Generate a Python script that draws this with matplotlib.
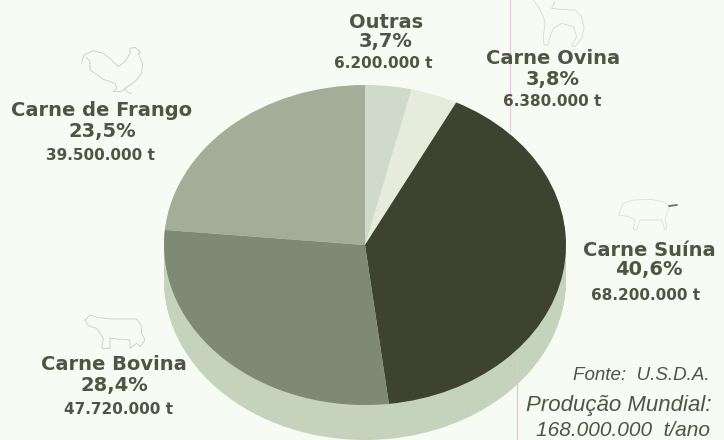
import matplotlib
matplotlib.use("Agg")
import matplotlib.pyplot as plt

W, H = 724, 440
FONT = "DejaVu Sans"
ITALIC_FONT = "Liberation Sans"
INK = "#505445"
PAPER = "#f6fbf4"

# Clockwise from twelve o'clock
categories = ["Outras", "Carne Ovina", "Carne Suína", "Carne Bovina", "Carne de Frango"]
shares = [3.7, 3.8, 40.6, 28.4, 23.5]
tonnes = ["6.200.000 t", "6.380.000 t", "68.200.000 t", "47.720.000 t", "39.500.000 t"]
share_labels = ["3,7%", "3,8%", "40,6%", "28,4%", "23,5%"]
top_colors = ["#cfdacb", "#e5ecdc", "#3e4230", "#7f8a74", "#a4ad98"]
side_colors = ["#c5d2bc"] * 5

fig = plt.figure(figsize=(W / 100, H / 100), dpi=100, facecolor=PAPER)


def pie_axes(cx, cy, rx, ry):
    """Axes whose unit circle lands on an ellipse given in pixel coordinates."""
    ax = fig.add_axes([(cx - rx) / W, 1 - (cy + ry) / H, 2 * rx / W, 2 * ry / H])
    ax.patch.set_alpha(0)
    return ax


def draw_pie(ax, colors):
    ax.pie(shares, colors=colors, startangle=90, counterclock=False, radius=1,
           wedgeprops={"linewidth": 0})
    ax.set_aspect("auto")
    ax.set_xlim(-1, 1)
    ax.set_ylim(-1, 1)


# Side wall of the disc, then a band joining it to the top face
CX, CY, RX, RY = 365, 245, 201, 160
DEPTH = 35
for step in range(DEPTH, 0, -1):
    draw_pie(pie_axes(CX, CY + step, RX, RY), side_colors)
draw_pie(pie_axes(CX, CY, RX, RY), top_colors)

# Overlay in pixel coordinates for labels and outline drawings
ov = fig.add_axes([0, 0, 1, 1], zorder=5)
ov.set_xlim(0, W)
ov.set_ylim(H, 0)
ov.axis("off")
ov.patch.set_alpha(0)

# Registration marks crossing the page
ov.plot([510, 510], [0, 131], color="#ecc8df", lw=0.9)
ov.plot([517, 517], [352, 440], color="#ecc0da", lw=0.9)


def outline(x0, y0, pts, color="#c9cfbe", lw=0.6):
    ov.plot([x0 + p[0] / 3 for p in pts], [y0 + p[1] / 3 for p in pts], color=color, lw=lw)


# Rooster
outline(70, 40, [(35, 68), (42, 45), (70, 32), (100, 40), (125, 60), (145, 80), (165, 65),
                 (180, 40), (180, 25), (195, 22), (212, 38), (205, 42), (218, 70), (215, 100),
                 (195, 125), (165, 145), (170, 155), (185, 162)])
outline(70, 40, [(50, 52), (60, 65), (60, 90), (75, 100), (100, 118), (135, 130), (140, 145),
                 (130, 155), (155, 155), (165, 145)])
# Lamb
outline(520, 0, [(40, 0), (55, 20), (70, 50), (75, 70), (70, 110), (72, 135), (85, 135),
                 (88, 115), (100, 85), (125, 70), (160, 80), (170, 110), (155, 135), (165, 140),
                 (185, 115), (192, 85), (185, 50), (165, 30), (120, 28), (95, 25), (105, 3)],
        color="#d6dbca")
# Pig
outline(600, 190, [(55, 75), (70, 40), (100, 30), (150, 28), (190, 35), (210, 48), (205, 60),
                   (195, 85), (200, 115), (195, 120), (185, 90), (120, 90), (110, 120),
                   (100, 118), (105, 90), (85, 80), (55, 75)], color="#dde2d4")
outline(600, 190, [(208, 48), (230, 45)], color="#6c705f", lw=1.3)
# Cow
outline(75, 305, [(30, 45), (45, 30), (70, 38), (110, 42), (185, 42), (198, 60), (200, 85),
                  (210, 105), (195, 125), (185, 115), (165, 130), (165, 105), (105, 100),
                  (105, 130), (80, 130), (85, 100), (65, 70), (40, 62), (30, 45)])

# name, percent and tonnage rows: x centres and y centres for each slice
name_xy = [(386, 22), (553, 59), (649, 251), (114, 365), (102, 111)]
pct_xy = [(386, 42), (553, 79), (649, 270), (114, 385), (102, 131)]
ton_xy = [(383, 64), (552, 101), (646, 295), (118, 410), (100, 156)]

for i, name in enumerate(categories):
    ov.text(*name_xy[i], name, family=FONT, weight="bold", size=14, color=INK,
            ha="center", va="center")
    ov.text(*pct_xy[i], share_labels[i], family=FONT, weight="bold", size=14, color=INK,
            ha="center", va="center")
    ov.text(*ton_xy[i], tonnes[i], family=FONT, weight="bold", size=11, color=INK,
            ha="center", va="center")

ov.text(710, 375, "Fonte:  U.S.D.A.", family=ITALIC_FONT, style="italic", size=13.5, color=INK,
        ha="right", va="center")
ov.text(712, 405, "Produção Mundial:", family=ITALIC_FONT, style="italic", size=16, color=INK,
        ha="right", va="center")
ov.text(710, 431, "168.000.000  t/ano", family=ITALIC_FONT, style="italic", size=15, color=INK,
        ha="right", va="center")

fig.savefig("out.png", dpi=100, facecolor=PAPER)
